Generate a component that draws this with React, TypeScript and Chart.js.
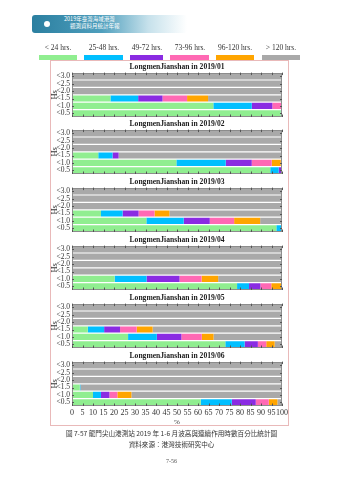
import React, { useEffect, useRef } from "react";
import { Chart, registerables } from "chart.js";

Chart.register(...registerables);

// ---------- data ----------
const HS_LABELS = ["<3.0", "<2.5", "<2.0", "<1.5", "<1.0", "<0.5"];
const DURATION_LABELS = ["< 24 hrs.", "25-48 hrs.", "49-72 hrs.", "73-96 hrs.", "96-120 hrs.", "> 120 hrs."];
const COLORS = ["#90EE90", "#00BFFF", "#8A2BE2", "#FF69B4", "#FFA500", "#A9A9A9"];
const MONTHS = ["2019/01", "2019/02", "2019/03", "2019/04", "2019/05", "2019/06"];
const X_TICKS = [0, 5, 10, 15, 20, 25, 30, 35, 40, 45, 50, 55, 60, 65, 70, 75, 80, 85, 90, 95, 100];

// each month: one row per duration class, values per Hs class (<3.0 ... <0.5), in %
const M01 = [
  [0, 0, 0, 18.3, 67.3, 99.4],
  [0, 0, 0, 13.2, 18.3, 0.6],
  [0, 0, 0, 11.6, 9.8, 0],
  [0, 0, 0, 11.7, 4.6, 0],
  [0, 0, 0, 10.0, 0, 0],
  [100, 100, 100, 35.2, 0, 0],
];
const M02 = [
  [0, 0, 0, 12.5, 49.7, 94.4],
  [0, 0, 0, 6.8, 23.5, 4.0],
  [0, 0, 0, 2.9, 12.4, 1.6],
  [0, 0, 0, 0, 9.5, 0],
  [0, 0, 0, 0, 4.3, 0],
  [100, 100, 100, 77.8, 0.6, 0],
];
const M03 = [
  [0, 0, 0, 13.8, 35.4, 97.3],
  [0, 0, 0, 10.3, 17.8, 2.7],
  [0, 0, 0, 7.6, 12.4, 0],
  [0, 0, 0, 7.6, 11.6, 0],
  [0, 0, 0, 7.1, 12.4, 0],
  [100, 100, 100, 53.6, 10.4, 0],
];
const M04 = [
  [0, 0, 0, 0, 20.3, 78.6],
  [0, 0, 0, 0, 15.2, 5.7],
  [0, 0, 0, 0, 15.7, 5.4],
  [0, 0, 0, 0, 10.5, 5.2],
  [0, 0, 0, 0, 7.9, 5.1],
  [100, 100, 100, 100, 30.4, 0],
];
const M05 = [
  [0, 0, 0, 7.5, 26.7, 73.0],
  [0, 0, 0, 7.8, 13.7, 9.2],
  [0, 0, 0, 7.6, 11.7, 6.3],
  [0, 0, 0, 7.9, 9.7, 4.0],
  [0, 0, 0, 7.6, 5.6, 4.0],
  [100, 100, 100, 61.6, 32.6, 3.5],
];
const M06 = [
  [0, 0, 0, 3.7, 10.0, 61.3],
  [0, 0, 0, 0.3, 3.8, 14.8],
  [0, 0, 0, 0, 4.0, 11.4],
  [0, 0, 0, 0, 3.8, 6.2],
  [0, 0, 0, 0, 6.7, 4.1],
  [100, 100, 100, 96.0, 71.7, 2.2],
];
const MONTH_DATA = [M01, M02, M03, M04, M05, M06];

const TITLE_PREFIX = "LongmenJianshan in ";
const HEADER_LINE1 = "2019年臺灣海域港灣";
const HEADER_LINE2 = "觀測資料月統計年報";
const CAPTION = "圖 7-57 龍門尖山港測站 2019 年 1-6 月波高與連續作用時數百分比統計圖";
const SOURCE = "資料來源：港灣技術研究中心";
const PAGE_NO = "7-56";

// ---------- layout ----------
const SERIF = '"Liberation Serif", "Times New Roman", serif';
const CJK = '"Noto Sans CJK TC", "Noto Sans CJK SC", sans-serif';
const PANEL_LEFT = 50;
const PANEL_W = 238;
const PANEL_TOPS = [60, 117, 175, 233, 291, 349];
const GRAYSCALE_TEXT: React.CSSProperties = { willChange: "transform", background: "transparent" };

const frameTicks = {
  id: "frameTicks",
  afterDatasetsDraw(chart: any) {
    const { ctx, chartArea: a, scales } = chart;
    ctx.save();
    ctx.strokeStyle = "#8c8c8c";
    ctx.lineWidth = 1;
    ctx.strokeRect(Math.round(a.left) + 0.5, Math.round(a.top) + 0.5, Math.round(a.right - a.left) - 1, Math.round(a.bottom - a.top) - 1);
    ctx.strokeStyle = "#555";
    ctx.beginPath();
    X_TICKS.forEach((v) => {
      const x = Math.round(scales.x.getPixelForValue(v)) + 0.5;
      ctx.moveTo(x, a.top);
      ctx.lineTo(x, a.top + 2.5);
      ctx.moveTo(x, a.bottom);
      ctx.lineTo(x, a.bottom - 2.5);
    });
    HS_LABELS.forEach((_, i) => {
      const y = Math.round(scales.y.getPixelForValue(i)) + 0.5;
      ctx.moveTo(a.left, y);
      ctx.lineTo(a.left + 2, y);
      ctx.moveTo(a.right, y);
      ctx.lineTo(a.right - 2, y);
    });
    ctx.stroke();
    ctx.restore();
  },
};

function Panel({ index }: { index: number }) {
  const ref = useRef<HTMLCanvasElement | null>(null);
  const isLast = index === MONTHS.length - 1;
  const height = isLast ? 78 : 58;
  useEffect(() => {
    if (!ref.current) return;
    const data = MONTH_DATA[index];
    const chart = new Chart(ref.current, {
      type: "bar",
      data: {
        labels: HS_LABELS,
        datasets: DURATION_LABELS.map((label, k) => ({
          label,
          data: data[k],
          backgroundColor: COLORS[k],
          borderWidth: 0,
          barPercentage: 0.84,
          categoryPercentage: 1,
        })),
      },
      options: {
        indexAxis: "y",
        animation: false,
        responsive: false,
        events: [],
        layout: { padding: { left: 0, right: 6, top: 0, bottom: 1 } },
        plugins: {
          legend: { display: false },
          tooltip: { enabled: false },
          title: {
            display: true,
            fullSize: false,
            text: TITLE_PREFIX + MONTHS[index],
            color: "#1a1a1a",
            font: { family: SERIF, size: 7.6, weight: "bold" },
            padding: { top: 2.5, bottom: 1 },
          },
        },
        scales: {
          x: {
            stacked: true,
            min: 0,
            max: 100,
            display: isLast,
            afterBuildTicks: (s: any) => {
              s.ticks = X_TICKS.map((v) => ({ value: v }));
            },
            afterFit: (s: any) => {
              if (isLast) s.height = 20;
              s.paddingLeft = 0;
              s.paddingRight = 0;
            },
            ticks: {
              font: { family: SERIF, size: 8 },
              color: "#333",
              padding: 2,
              maxRotation: 0,
              autoSkip: false,
            },
            grid: { display: false, drawTicks: false },
            border: { display: false },
            title: {
              display: true,
              text: "%",
              color: "#333",
              font: { family: SERIF, size: 7 },
              padding: { top: 0, bottom: 0 },
            },
          },
          y: {
            stacked: true,
            afterFit: (s: any) => {
              s.width = 22;
              s.paddingTop = 0;
              s.paddingBottom = 0;
            },
            ticks: { font: { family: SERIF, size: 7.5 }, color: "#333", padding: 2, autoSkip: false },
            grid: { display: false, drawTicks: false },
            border: { display: false },
            title: {
              display: true,
              text: "Hs",
              color: "#333",
              font: { family: SERIF, size: 8.5 },
              padding: { top: 0, bottom: 0 },
            },
          },
        },
      } as any,
      plugins: [frameTicks],
    });
    return () => chart.destroy();
  }, [index]);
  return (
    <canvas
      ref={ref}
      width={PANEL_W}
      height={height}
      style={{ position: "absolute", left: PANEL_LEFT, top: PANEL_TOPS[index], width: PANEL_W, height }}
    />
  );
}

const LEGEND_BOXES = [
  [39, 77],
  [84, 123],
  [130, 163],
  [170, 209],
  [216, 254],
  [262, 300],
];

export default function App() {
  return (
    <div style={{ position: "fixed", left: 0, top: 0, width: 339, height: 480, background: "#fff", overflow: "hidden" }}>
      {/* header banner */}
      <div
        style={{
          position: "absolute",
          left: 32,
          top: 15,
          width: 155,
          height: 18,
          borderRadius: 3,
          background: "linear-gradient(90deg, #2b7fa0 0%, #4f9fbd 45%, rgba(160,205,222,0.6) 75%, rgba(255,255,255,0) 100%)",
        }}
      />
      <div style={{ position: "absolute", left: 44, top: 21, width: 6, height: 6, borderRadius: 3, background: "#fff" }} />
      <div
        style={{
          position: "absolute",
          left: 64,
          top: 16,
          color: "#fff",
          fontFamily: CJK,
          fontSize: 5.5,
          lineHeight: "7px",
          whiteSpace: "nowrap",
        }}
      >
        <div>{HEADER_LINE1}</div>
        <div style={{ paddingLeft: 6 }}>{HEADER_LINE2}</div>
      </div>

      {/* legend */}
      {DURATION_LABELS.map((label, k) => {
        const [x0, x1] = LEGEND_BOXES[k];
        return (
          <React.Fragment key={label}>
            <div
              style={{
                ...GRAYSCALE_TEXT,
                position: "absolute",
                left: (x0 + x1) / 2 - 30,
                width: 60,
                top: 43,
                textAlign: "center",
                fontFamily: SERIF,
                fontSize: 7.5,
                color: "#333",
                whiteSpace: "nowrap",
              }}
            >
              {label}
            </div>
            <div style={{ position: "absolute", left: x0, top: 55, width: x1 - x0, height: 5, background: COLORS[k] }} />
          </React.Fragment>
        );
      })}

      {/* outer frame */}
      <div
        style={{
          position: "absolute",
          left: 50,
          top: 60,
          width: 237,
          height: 364,
          border: "1px solid #e9b9b9",
        }}
      />

      {MONTHS.map((m, i) => (
        <Panel key={m} index={i} />
      ))}

      {/* caption */}
      <div
        style={{
          ...GRAYSCALE_TEXT,
          position: "absolute",
          left: 0,
          width: 339,
          top: 428,
          textAlign: "center",
          fontFamily: CJK,
          fontSize: 6.6,
          color: "#333",
          whiteSpace: "nowrap",
          paddingLeft: 4,
          boxSizing: "border-box",
        }}
      >
        {CAPTION}
      </div>
      <div
        style={{
          ...GRAYSCALE_TEXT,
          position: "absolute",
          left: 0,
          width: 339,
          top: 439,
          textAlign: "center",
          fontFamily: CJK,
          fontSize: 6.6,
          color: "#333",
          paddingLeft: 4,
          boxSizing: "border-box",
        }}
      >
        {SOURCE}
      </div>
      <div
        style={{
          ...GRAYSCALE_TEXT,
          position: "absolute",
          left: 0,
          width: 339,
          top: 458,
          textAlign: "center",
          fontFamily: SERIF,
          fontSize: 6,
          color: "#555",
          paddingLeft: 4,
          boxSizing: "border-box",
        }}
      >
        {PAGE_NO}
      </div>
    </div>
  );
}
